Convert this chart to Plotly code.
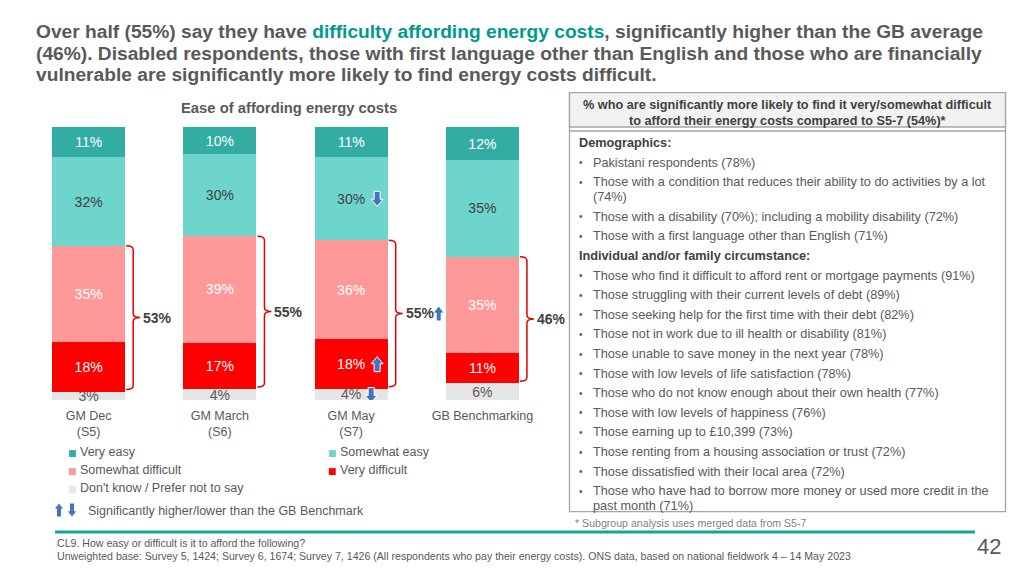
import plotly.graph_objects as go

# ---------------- data ----------------
categories = ["GM Dec<br>(S5)", "GM March<br>(S6)", "GM May<br>(S7)", "GB Benchmarking"]
very_easy = [11, 10, 11, 12]
somewhat_easy = [32, 30, 30, 35]
somewhat_difficult = [35, 39, 36, 35]
very_difficult = [18, 17, 18, 11]
dont_know = [3, 4, 4, 6]
net_difficult = [53, 55, 55, 46]

# significance vs GB benchmark ("up" / "down" / "")
sig_somewhat_easy = ["", "", "down", ""]
sig_very_difficult = ["", "", "up", ""]
sig_dont_know = ["", "", "down", ""]
sig_net = ["", "", "up", ""]

series_names = ["Don't know / Prefer not to say", "Very difficult", "Somewhat difficult",
                "Somewhat easy", "Very easy"]

title_lines = [
    "Over half (55%) say they have <span style='color:#00998F'>difficulty affording energy costs</span>, significantly higher than the GB average",
    "(46%). Disabled respondents, those with first language other than English and those who are financially",
    "vulnerable are significantly more likely to find energy costs difficult.",
]

box_header = [
    "% who are significantly more likely to find it very/somewhat difficult",
    "to afford their energy costs compared to S5-7 (54%)*",
]
demographics = [
    ["Pakistani respondents (78%)"],
    ["Those with a condition that reduces their ability to do activities by a lot", "(74%)"],
    ["Those with a disability (70%); including a mobility disability (72%)"],
    ["Those with a first language other than English (71%)"],
]
circumstances = [
    ["Those who find it difficult to afford rent or mortgage payments (91%)"],
    ["Those struggling with their current levels of debt (89%)"],
    ["Those seeking help for the first time with their debt (82%)"],
    ["Those not in work due to ill health or disability (81%)"],
    ["Those unable to save money in the next year (78%)"],
    ["Those with low levels of life satisfaction (78%)"],
    ["Those who do not know enough about their own health (77%)"],
    ["Those with low levels of happiness (76%)"],
    ["Those earning up to £10,399 (73%)"],
    ["Those renting from a housing association or trust (72%)"],
    ["Those dissatisfied with their local area (72%)"],
    ["Those who have had to borrow more money or used more credit in the", "past month (71%)"],
]
footnote = "* Subgroup analysis uses merged data from S5-7"
footer_lines = [
    "CL9. How easy or difficult is it to afford the following?",
    "Unweighted base: Survey 5, 1424; Survey 6, 1674; Survey 7, 1426 (All respondents who pay their energy costs). ONS data, based on national fieldwork 4 – 14 May 2023",
]
page_number = "42"

# ---------------- styling ----------------
FONT = "Liberation Sans, Arial, sans-serif"
NARROW = "Liberation Sans Narrow, Liberation Sans, sans-serif"
GREY = "#595959"
DARK = "#404040"
ARROW = "#4472C4"
colors = {
    "Very easy": "#33ADA3",
    "Somewhat easy": "#6DD5CB",
    "Somewhat difficult": "#FF9999",
    "Very difficult": "#FF0000",
    "Don't know / Prefer not to say": "#E6E6E6",
}
text_colors = {
    "Very easy": "white",
    "Somewhat easy": "#404040",
    "Somewhat difficult": "white",
    "Very difficult": "white",
    "Don't know / Prefer not to say": "#595959",
}

W, H = 1024, 576
L, R, T, B = 23, 476, 127, 176
PW, PH = W - L - R, H - T - B
BAR_W = 0.557
YMAX = 100.05


def px(x):
    return (x - L) / PW


def py(y):
    return (H - B - y) / PH


values = {
    "Very easy": very_easy,
    "Somewhat easy": somewhat_easy,
    "Somewhat difficult": somewhat_difficult,
    "Very difficult": very_difficult,
    "Don't know / Prefer not to say": dont_know,
}
xs = list(range(len(categories)))

fig = go.Figure()
for name in series_names:
    fig.add_trace(go.Bar(
        x=xs, y=values[name], name=name, width=BAR_W,
        marker=dict(color=colors[name], line=dict(width=0)),
        text=[f"{v}%" for v in values[name]],
        textposition="inside", insidetextanchor="middle", constraintext="none",
        textangle=0, cliponaxis=False,
        textfont=dict(family=FONT, size=14, color=text_colors[name]),
        hoverinfo="skip", showlegend=False,
    ))

annotations = []
shapes = []

unit_x = 4.0 / PW       # data units per pixel on x
unit_y = YMAX / PH      # data units per pixel on y


def arrow_offsets(up, hw=6.0, sw=3.0, h=15.0, hh=7.0):
    """block-arrow outline as pixel offsets (dx, dy) around its centre, dy pointing down."""
    top, bot = -h / 2, h / 2
    if up:
        pts = [(0, top), (hw, top + hh), (sw, top + hh), (sw, bot), (-sw, bot),
               (-sw, top + hh), (-hw, top + hh)]
    else:
        pts = [(0, bot), (hw, bot - hh), (sw, bot - hh), (sw, top), (-sw, top),
               (-sw, bot - hh), (-hw, bot - hh)]
    return pts


def data_arrow(xc, yc, up, **kw):
    pts = arrow_offsets(up, **kw)
    path = "M " + " L ".join(f"{xc + dx * unit_x},{yc - dy * unit_y}" for dx, dy in pts) + " Z"
    shapes.append(dict(type="path", xref="x", yref="y", path=path, fillcolor=ARROW,
                       line=dict(color="white", width=1)))


def paper_arrow(cx, cy, up, **kw):
    pts = arrow_offsets(up, **kw)
    path = "M " + " L ".join(f"{px(cx + dx)},{py(cy + dy)}" for dx, dy in pts) + " Z"
    shapes.append(dict(type="path", xref="paper", yref="paper", path=path, fillcolor=ARROW,
                       line=dict(color="white", width=1)))


for i in xs:
    tot = dont_know[i] + very_difficult[i] + somewhat_difficult[i] + somewhat_easy[i] + very_easy[i]
    c0 = 0
    c1 = dont_know[i] / tot * 100
    c2 = (dont_know[i] + very_difficult[i]) / tot * 100
    c3 = (dont_know[i] + very_difficult[i] + somewhat_difficult[i]) / tot * 100
    c4 = (dont_know[i] + very_difficult[i] + somewhat_difficult[i] + somewhat_easy[i]) / tot * 100
    # curly brace for net difficult
    edge = i + BAR_W / 2
    x0 = edge + 1 * unit_x
    x1 = edge + 8 * unit_x
    x2 = edge + 15 * unit_x
    yt, yb = c3, c1 + 0.8
    ym = (yt + yb) / 2
    r = 4 * unit_y
    path = (f"M {x0},{yt} Q {x1},{yt} {x1},{yt - r} L {x1},{ym + r} "
            f"Q {x1},{ym} {x2},{ym} Q {x1},{ym} {x1},{ym - r} "
            f"L {x1},{yb + r} Q {x1},{yb} {x0},{yb}")
    shapes.append(dict(type="path", xref="x", yref="y", path=path,
                       line=dict(color="#E00000", width=1.5)))
    annotations.append(dict(x=edge + 16 * unit_x, y=ym, xref="x", yref="y",
                            text=f"<b>{net_difficult[i]}%</b>",
                            showarrow=False, xanchor="left", yanchor="middle",
                            font=dict(family=FONT, size=14, color=DARK)))
    if sig_net[i]:
        data_arrow(edge + 51 * unit_x, ym, sig_net[i] == "up", hw=5.5, sw=2.5, h=15, hh=7)
    # significance arrows inside bars
    for flags, ymid, shift in [(sig_somewhat_easy, (c3 + c4) / 2, 26),
                               (sig_very_difficult, (c1 + c2) / 2, 26),
                               (sig_dont_know, (c0 + c1) / 2 - 0.2, 20)]:
        if flags[i]:
            data_arrow(i + shift * unit_x, ymid, flags[i] == "up")

# title
for k, line in enumerate(title_lines):
    annotations.append(dict(x=px(34), y=py(32 + 21 * k), xref="paper", yref="paper",
                            text=f"<b>{line}</b>", showarrow=False, xanchor="left", yanchor="middle",
                            font=dict(family=FONT, size=19.2, color=GREY)))

# chart subtitle
annotations.append(dict(x=px(289), y=py(108), xref="paper", yref="paper",
                        text="<b>Ease of affording energy costs</b>", showarrow=False,
                        xanchor="center", yanchor="middle",
                        font=dict(family=FONT, size=14.8, color=GREY)))

# legend (drawn as text)
legend_items = [("Very easy", 72.5, 452), ("Somewhat easy", 332.5, 452),
                ("Somewhat difficult", 72.5, 470), ("Very difficult", 332.5, 470),
                ("Don't know / Prefer not to say", 72.5, 488)]
for name, lx, ly in legend_items:
    annotations.append(dict(x=px(lx), y=py(ly + 0.5), xref="paper", yref="paper", text="■",
                            showarrow=False, xanchor="center", yanchor="middle",
                            font=dict(family="DejaVu Sans", size=9, color=colors[name])))
    annotations.append(dict(x=px(lx + 5), y=py(ly), xref="paper", yref="paper", text=name,
                            showarrow=False, xanchor="left", yanchor="middle",
                            font=dict(family=FONT, size=12.5, color=GREY)))
paper_arrow(59, 510, True, hw=5, sw=2.5, h=14, hh=6)
paper_arrow(72, 510, False, hw=5, sw=2.5, h=14, hh=6)
annotations.append(dict(x=px(86), y=py(511), xref="paper", yref="paper",
                        text="Significantly higher/lower than the GB Benchmark",
                        showarrow=False, xanchor="left", yanchor="middle",
                        font=dict(family=FONT, size=12.5, color=GREY)))

# right-hand box
BX0, BX1, BY0, BY1 = 569.5, 1005.5, 92.7, 511.7
shapes.append(dict(type="rect", xref="paper", yref="paper", x0=px(BX0), x1=px(BX1),
                   y0=py(BY1), y1=py(BY0), line=dict(color="#A6A6A6", width=1.3),
                   fillcolor="rgba(0,0,0,0)"))
shapes.append(dict(type="rect", xref="paper", yref="paper", x0=px(BX0), x1=px(BX1),
                   y0=py(127), y1=py(BY0), line=dict(color="#A6A6A6", width=1.3),
                   fillcolor="#F2F2F2"))
shapes.append(dict(type="line", xref="paper", yref="paper", x0=px(BX0), x1=px(BX1),
                   y0=py(131), y1=py(131), line=dict(color="#A6A6A6", width=1.3)))
for k, line in enumerate(box_header):
    annotations.append(dict(x=px(787), y=py(105 + 16 * k), xref="paper", yref="paper",
                            text=f"<b>{line}</b>", showarrow=False, xanchor="center",
                            yanchor="middle", font=dict(family=FONT, size=12.7, color=DARK)))

ycur = 143
BODY = 12.7


def add_heading(text, y):
    annotations.append(dict(x=px(577), y=py(y), xref="paper", yref="paper",
                            text=f"<b>{text}</b>", showarrow=False, xanchor="left",
                            yanchor="middle", font=dict(family=FONT, size=12.7, color=DARK)))


def add_item(lines, y):
    annotations.append(dict(x=px(581), y=py(y), xref="paper", yref="paper", text="•",
                            showarrow=False, xanchor="center", yanchor="middle",
                            font=dict(family=FONT, size=10, color=GREY)))
    for j, t in enumerate(lines):
        annotations.append(dict(x=px(591), y=py(y + 15 * j), xref="paper", yref="paper",
                                text=t, showarrow=False, xanchor="left", yanchor="middle",
                                font=dict(family=FONT, size=BODY, color=GREY)))


add_heading("Demographics:", ycur)
ycur += 19.5
for item in demographics:
    add_item(item, ycur)
    ycur += 19.6 + 15 * (len(item) - 1)
add_heading("Individual and/or family circumstance:", ycur)
ycur += 19.7
for item in circumstances:
    add_item(item, ycur)
    ycur += 19.6 + 15 * (len(item) - 1)

annotations.append(dict(x=px(573), y=py(523), xref="paper", yref="paper", text=footnote,
                        showarrow=False, xanchor="left", yanchor="middle",
                        font=dict(family=FONT, size=10.6, color="#7F7F7F")))

# footer
shapes.append(dict(type="line", xref="paper", yref="paper", x0=px(55), x1=px(975),
                   y0=py(532), y1=py(532), line=dict(color="#14A39A", width=3)))
for k, line in enumerate(footer_lines):
    annotations.append(dict(x=px(55), y=py(543 + 13 * k), xref="paper", yref="paper",
                            text=line, showarrow=False, xanchor="left", yanchor="middle",
                            font=dict(family=NARROW, size=10.6, color=GREY)))
annotations.append(dict(x=px(989), y=py(546), xref="paper", yref="paper", text=page_number,
                        showarrow=False, xanchor="center", yanchor="middle",
                        font=dict(family=NARROW, size=22, color=GREY)))

fig.update_layout(
    width=W, height=H,
    margin=dict(l=L, r=R, t=T, b=B),
    barmode="stack", barnorm="percent",
    plot_bgcolor="white", paper_bgcolor="white",
    showlegend=False,
    xaxis=dict(range=[-0.5, 3.5], tickvals=xs, ticktext=categories, showgrid=False,
               zeroline=False, showline=False, ticks="", ticklabelstandoff=6,
               tickfont=dict(family=FONT, size=12.5, color=GREY), fixedrange=True),
    yaxis=dict(range=[0, YMAX], visible=False, fixedrange=True),
    annotations=annotations, shapes=shapes,
)

fig.write_html("out.html", config={"displayModeBar": False},
               post_script="document.body.style.margin='0';")
